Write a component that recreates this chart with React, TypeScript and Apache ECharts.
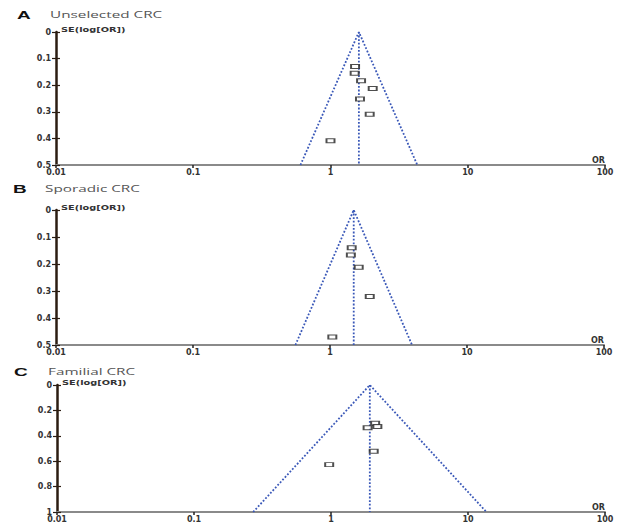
import React, { useEffect, useRef } from "react";
import * as echarts from "echarts";

// Panel titles
const panelLetters = ["A", "B", "C"];
const panelNames = ["Unselected CRC", "Sporadic CRC", "Familial CRC"];

// Pooled OR per panel and max SE of funnel
const pooledOR = [1.61, 1.49, 1.92];
const seMax = [0.5, 0.5, 1];
const seInterval = [0.1, 0.1, 0.2];

// Study points: [OR, SE]
const studiesA = [
  [1.51, 0.13],
  [1.5, 0.155],
  [1.67, 0.183],
  [2.03, 0.212],
  [1.64, 0.252],
  [1.93, 0.309],
  [1.0, 0.409],
];
const studiesB = [
  [1.44, 0.14],
  [1.42, 0.167],
  [1.62, 0.212],
  [1.95, 0.32],
  [1.04, 0.47],
];
const studiesC = [
  [2.1, 0.301],
  [2.18, 0.326],
  [1.85, 0.336],
  [2.05, 0.522],
  [0.97, 0.627],
];
const studies = [studiesA, studiesB, studiesC];

const xTicks = [0.01, 0.1, 1, 10, 100];

export default function App() {
  const ref = useRef<HTMLDivElement>(null);
  useEffect(() => {
    const chart = echarts.init(ref.current!, null, { renderer: "svg" });
    const grids = [
      { left: 56, top: 32, width: 549, height: 133 },
      { left: 56, top: 210, width: 548, height: 135 },
      { left: 57, top: 385, width: 548, height: 134 },
    ];
    const blue = "#3a58b8";
    const tickFont = "DejaVu Sans";
    const xAxes: any[] = [];
    const yAxes: any[] = [];
    const series: any[] = [];
    const graphic: any[] = [];
    const titleY = [15, 189, 372];
    const letterX = [17, 13, 14];
    const nameX = [50, 45, 48];
    grids.forEach((g, i) => {
      xAxes.push({
        type: "log",
        logBase: 10,
        gridIndex: i,
        min: 0.01,
        max: 100,
        name: "OR",
        nameLocation: "end",
        nameGap: 0,
        nameTextStyle: {
          align: "right",
          verticalAlign: "bottom",
          fontSize: 8,
          fontWeight: "bold",
          color: "#333",
          fontFamily: tickFont,
          padding: [0, 0, 1, 0],
        },
        axisLine: { onZero: false, lineStyle: { color: "#8a8a8a", width: 2 } },
        axisTick: { show: true, length: 3, lineStyle: { color: "#222", width: 1.5 } },
        axisLabel: {
          fontSize: 8,
          fontWeight: "bold",
          color: "#333",
          fontFamily: tickFont,
          margin: 3,
          formatter: (v: number) => String(xTicks.find((t) => Math.abs(t - v) / t < 1e-6) ?? v),
        },
        splitLine: { show: false },
        minorTick: { show: false },
      });
      yAxes.push({
        type: "value",
        gridIndex: i,
        inverse: true,
        min: 0,
        max: seMax[i],
        interval: seInterval[i],
        axisLine: { show: true, lineStyle: { color: "#2b1d12", width: 2.5 } },
        axisTick: { show: true, length: 4, lineStyle: { color: "#2b1d12", width: 1.2 } },
        axisLabel: {
          fontSize: 8,
          fontWeight: "bold",
          color: "#333",
          fontFamily: tickFont,
          margin: 5,
        },
        splitLine: { show: false },
      });
      yAxes.push({
        type: "value",
        gridIndex: i,
        inverse: true,
        position: "left",
        min: 0,
        max: seMax[i],
        interval: seInterval[i],
        axisLine: { show: false },
        axisTick: { show: true, inside: true, length: 4, lineStyle: { color: "#2b1d12", width: 1.2 } },
        axisLabel: { show: false },
        splitLine: { show: false },
      });
      const p = pooledOR[i];
      const s = seMax[i];
      const lo = Math.exp(Math.log(p) - 1.96 * s);
      const hi = Math.exp(Math.log(p) + 1.96 * s);
      series.push({
        type: "line",
        xAxisIndex: i,
        yAxisIndex: i * 2,
        data: [
          [lo, s],
          [p, 0],
          [hi, s],
        ],
        symbol: "none",
        lineStyle: { color: blue, width: 1.8, type: [1.8, 1.8] },
        silent: true,
      });
      series.push({
        type: "line",
        xAxisIndex: i,
        yAxisIndex: i * 2,
        data: [
          [p, 0],
          [p, s],
        ],
        symbol: "none",
        lineStyle: { color: blue, width: 1.8, type: [1.8, 1.8] },
        silent: true,
      });
      series.push({
        type: "scatter",
        xAxisIndex: i,
        yAxisIndex: i * 2,
        data: studies[i],
        symbol: "rect",
        symbolSize: [8, 4],
        itemStyle: { color: "#fff", borderColor: "#222", borderWidth: 1.4 },
        z: 5,
      });
      graphic.push({
        type: "text",
        x: letterX[i],
        y: titleY[i],
        scaleX: 1.9,
        style: {
          text: panelLetters[i],
          fontSize: 10,
          fontWeight: "bold",
          fill: "#111",
          fontFamily: "Liberation Sans",
          align: "left",
          verticalAlign: "middle",
        },
      });
      graphic.push({
        type: "text",
        x: nameX[i],
        y: titleY[i],
        scaleX: 1.7,
        style: {
          text: panelNames[i],
          fontSize: 9,
          fill: "#555",
          fontFamily: "Open Sans",
          align: "left",
          verticalAlign: "middle",
        },
      });
      graphic.push({
        type: "text",
        x: g.left + 5,
        y: g.top - 2,
        scaleX: 1.4,
        style: {
          text: "SE(log[OR])",
          fontSize: 7,
          fontWeight: "bold",
          fill: "#333",
          fontFamily: tickFont,
          align: "left",
          verticalAlign: "middle",
        },
      });
    });
    chart.setOption({
      animation: false,
      backgroundColor: "#fff",
      grid: grids,
      xAxis: xAxes,
      yAxis: yAxes,
      series,
      graphic,
    });
    return () => chart.dispose();
  }, []);
  return (
    <div
      ref={ref}
      style={{ position: "fixed", left: 0, top: 0, width: 625, height: 523 }}
    />
  );
}
